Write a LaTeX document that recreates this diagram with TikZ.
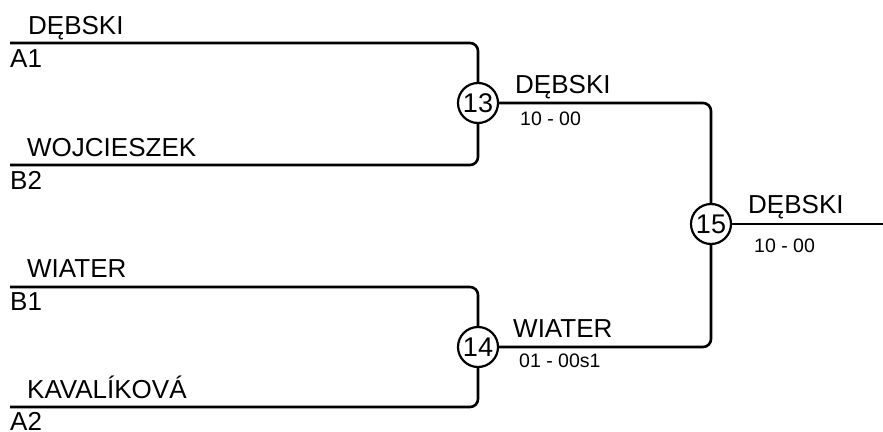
\documentclass[tikz,border=0pt]{standalone}
\usepackage{fontspec}
\setmainfont{Liberation Sans}
\begin{document}
\begin{tikzpicture}[x=1pt,y=-1pt,
  line/.style={line width=2.6pt,rounded corners=8pt},
  pname/.style={anchor=base west,inner sep=0pt,font=\fontsize{26}{30}\selectfont},
  seedlbl/.style={anchor=base west,inner sep=0pt,font=\fontsize{26}{30}\selectfont},
  scorelbl/.style={anchor=base west,inner sep=0pt,font=\fontsize{19.5}{23}\selectfont},
  matchc/.style={circle,draw,line width=2.2pt,fill=white,minimum size=40pt,inner sep=0pt,font=\fontsize{27}{30}\selectfont}]
\useasboundingbox (0,0) rectangle (883,431);
% match circles
\node[matchc] (m13) at (478,103) {13};
\node[matchc] (m14) at (478,347) {14};
\node[matchc] (m15) at (711,224) {15};
% start points
\coordinate (a1) at (10,43);
\coordinate (b2) at (10,165);
\coordinate (b1) at (10,287);
\coordinate (a2) at (10,407);
\coordinate (fin) at (883,224);
% connectors
\draw[line] (a1) -| (m13.north);
\draw[line] (b2) -| (m13.south);
\draw[line] (b1) -| (m14.north);
\draw[line] (a2) -| (m14.south);
\draw[line] (m13.east) -| (m15.north);
\draw[line] (m14.east) -| (m15.south);
\draw[line] (m15.east) -- (fin);
% labels
\node[pname] (n1) at (28,34) {DĘBSKI};
\node[seedlbl] (s1) at (10,67) {A1};
\node[pname] (n2) at (27,156) {WOJCIESZEK};
\node[seedlbl] (s2) at (10,189) {B2};
\node[pname] (n3) at (27,277) {WIATER};
\node[seedlbl] (s3) at (10,310) {B1};
\node[pname] (n4) at (27,398) {KAVALÍKOVÁ};
\node[seedlbl] (s4) at (10,430) {A2};
\node[pname] (w13) at (515,93) {DĘBSKI};
\node[scorelbl] (r13) at (520,125) {10 - 00};
\node[pname] (w14) at (513,337) {WIATER};
\node[scorelbl] (r14) at (519,367) {01 - 00s1};
\node[pname] (w15) at (748,213) {DĘBSKI};
\node[scorelbl] (r15) at (754,252) {10 - 00};
\end{tikzpicture}
\end{document}
